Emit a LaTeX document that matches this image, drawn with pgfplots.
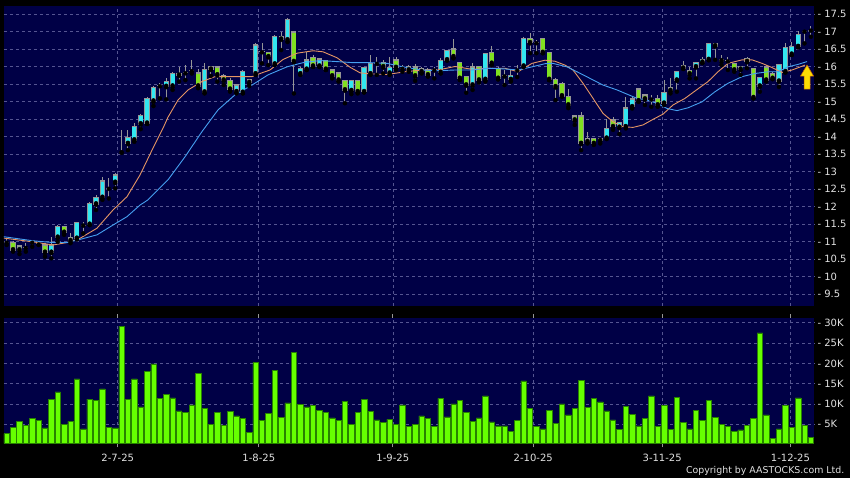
\documentclass[border=0pt]{standalone}
\usepackage{pgfplots}
\pgfplotsset{compat=1.18}
\usepackage{pgfplotstable}
\usepackage{fontspec}
\setmainfont{DejaVu Sans}
\definecolor{panel}{RGB}{0,0,70}
\definecolor{gridc}{RGB}{85,85,145}
\definecolor{upc}{RGB}{50,230,240}
\definecolor{dnc}{RGB}{128,224,32}
\definecolor{wick}{RGB}{150,150,150}
\definecolor{volf}{RGB}{102,255,0}
\definecolor{vold}{RGB}{40,130,0}
\definecolor{maone}{RGB}{230,150,100}
\definecolor{matwo}{RGB}{70,160,240}
\definecolor{lab}{RGB}{225,225,225}
\pgfdeclareplotmark{uparrow}{%
  \pgfpathmoveto{\pgfpoint{0pt}{12pt}}%
  \pgfpathlineto{\pgfpoint{6.5pt}{1pt}}%
  \pgfpathlineto{\pgfpoint{3pt}{1pt}}%
  \pgfpathlineto{\pgfpoint{3pt}{-12pt}}%
  \pgfpathlineto{\pgfpoint{-3pt}{-12pt}}%
  \pgfpathlineto{\pgfpoint{-3pt}{1pt}}%
  \pgfpathlineto{\pgfpoint{-6.5pt}{1pt}}%
  \pgfpathclose
  \pgfusepath{fill,stroke}}
\pgfplotstableread{
i O H L C
2 10.76 10.90 10.64 10.87
7 10.69 11.14 10.52 10.90
8 11.12 11.47 10.99 11.42
11 11.09 11.57 11.06 11.55
13 11.49 12.14 11.47 12.09
14 12.07 12.33 11.90 12.26
15 12.26 12.85 12.19 12.73
17 12.69 12.95 12.52 12.90
19 13.80 14.19 13.61 13.97
20 13.90 14.40 13.85 14.28
21 14.36 14.65 14.21 14.60
22 14.38 15.12 14.36 15.09
23 15.01 15.44 14.87 15.40
25 15.43 15.66 15.06 15.58
26 15.44 15.85 15.33 15.80
31 15.27 16.09 15.23 15.92
32 15.92 16.00 15.73 15.99
36 15.28 15.50 15.23 15.47
37 15.26 15.90 15.23 15.85
38 15.54 15.64 15.44 15.62
39 15.79 16.68 15.76 16.61
42 16.07 16.90 16.04 16.85
43 16.78 16.99 16.47 16.85
44 16.76 17.38 16.70 17.35
46 15.79 15.99 15.76 15.95
47 15.92 16.42 15.90 16.19
49 16.01 16.23 15.99 16.21
54 15.31 15.62 15.21 15.60
56 15.28 16.00 15.26 15.97
57 15.79 16.33 15.76 16.09
60 15.81 16.28 15.76 15.97
63 15.90 16.04 15.85 15.99
65 15.85 15.99 15.80 15.95
68 15.83 16.23 15.80 16.17
69 16.19 16.47 16.17 16.45
73 15.47 16.11 15.33 15.99
75 15.63 16.40 15.57 16.38
79 15.63 15.90 15.57 15.74
81 16.01 16.83 15.99 16.80
91 13.85 14.14 13.80 13.95
93 13.88 13.97 13.80 13.95
94 13.95 14.49 13.93 14.23
96 14.26 14.42 14.07 14.40
97 14.28 15.14 14.23 14.82
98 14.85 15.14 14.80 15.07
103 14.95 15.61 14.90 15.25
104 15.31 15.66 15.23 15.40
105 15.61 15.88 15.28 15.85
108 15.99 16.14 15.66 16.12
109 16.12 16.28 16.10 16.20
110 16.20 16.68 16.18 16.66
115 15.92 16.02 15.76 16.00
118 15.44 15.70 15.28 15.68
121 15.58 16.08 15.42 16.06
122 15.85 16.66 15.83 16.55
123 16.35 16.71 16.33 16.57
124 16.57 17.01 16.55 16.92
}\upT
\pgfplotstableread{
i O H L C
1 10.97 11.00 10.71 10.76
6 10.90 10.95 10.57 10.69
9 11.42 11.44 11.19 11.26
10 11.12 11.23 10.95 11.02
27 15.79 16.00 15.57 15.75
30 15.82 15.92 15.38 15.44
33 15.99 16.00 15.57 15.76
34 15.73 15.80 15.47 15.61
35 15.60 15.66 15.28 15.35
41 16.40 16.42 16.04 16.28
45 16.99 17.00 15.23 16.14
48 16.25 16.33 15.99 16.01
50 16.17 16.19 15.90 15.92
51 15.90 15.92 15.66 15.73
52 15.82 15.85 15.57 15.61
53 15.60 15.62 14.95 15.33
55 15.60 15.62 15.23 15.28
59 16.11 16.19 15.80 15.99
61 16.19 16.28 15.90 15.97
64 15.99 16.07 15.59 15.73
66 15.90 15.95 15.71 15.76
70 16.50 16.80 16.23 16.28
71 16.11 16.14 15.61 15.66
72 15.71 15.73 15.25 15.47
74 16.00 16.02 15.54 15.61
76 16.40 16.59 16.04 16.09
77 15.95 16.00 15.63 15.66
82 16.80 16.97 16.38 16.68
84 16.80 16.81 16.38 16.40
85 16.40 16.42 15.61 15.63
86 15.63 15.66 15.04 15.42
87 15.52 15.55 15.14 15.16
88 15.14 15.35 14.81 14.90
89 14.59 14.62 14.33 14.47
90 14.59 14.71 13.61 13.80
92 13.95 13.97 13.76 13.80
95 14.47 14.57 14.19 14.28
99 15.36 15.38 14.99 15.02
100 15.19 15.21 14.90 15.07
102 15.09 15.19 14.85 14.90
106 16.01 16.16 15.93 15.95
107 15.88 16.00 15.66 15.79
111 16.66 16.68 16.19 16.59
112 16.20 16.33 16.04 16.16
114 16.09 16.11 15.85 15.90
116 16.23 16.28 15.95 16.14
117 15.95 15.97 15.09 15.11
119 15.99 16.04 15.57 15.61
120 15.80 15.83 15.64 15.66
}\dnT
\pgfplotstableread{
i P H L
0 10.98 11.09 10.90
3 10.83 10.95 10.71
4 10.98 11.05 10.85
5 10.93 11.02 10.90
12 11.47 11.57 11.23
16 12.52 12.80 12.23
18 13.55 14.19 13.55
24 15.45 15.52 15.09
28 15.82 16.04 15.61
29 15.88 16.18 15.80
40 16.42 16.68 16.09
58 16.09 16.28 15.76
62 15.95 16.04 15.85
67 15.90 15.99 15.66
78 15.73 15.90 15.47
80 15.90 16.04 15.70
83 16.68 16.76 16.38
101 15.07 15.19 14.85
113 16.16 16.28 15.90
125 17.01 17.04 16.66
126 17.04 17.16 16.85
}\djT
\pgfplotstableread{
i V
0 2.7
1 4.3
2 5.7
3 4.7
4 6.5
5 5.9
6 4.1
7 11.1
8 13.0
9 4.9
10 5.7
11 16.2
12 3.9
13 11.2
14 10.8
15 13.7
16 4.3
17 4.1
18 29.1
19 11.1
20 16.2
21 9.3
22 18.1
23 19.9
24 11.3
25 12.4
26 11.5
27 8.3
28 8.0
29 9.8
30 17.6
31 8.9
32 4.9
33 7.9
34 4.7
35 8.1
36 7.1
37 6.4
38 3.1
39 20.2
40 6.0
41 7.6
42 18.3
43 6.7
44 10.3
45 22.8
46 9.9
47 9.3
48 9.6
49 8.5
50 7.9
51 6.6
52 5.9
53 10.7
54 5.0
55 8.0
56 11.1
57 8.2
58 6.1
59 5.5
60 6.2
61 5.0
62 9.8
63 4.4
64 4.9
65 7.1
66 6.5
67 4.4
68 11.4
69 6.8
70 10.0
71 10.8
72 8.0
73 5.8
74 6.6
75 12.0
76 5.6
77 4.6
78 4.6
79 3.2
80 5.9
81 15.7
82 8.9
83 4.4
84 3.9
85 8.4
86 5.2
87 10.0
88 7.3
89 8.9
90 15.9
91 9.2
92 11.4
93 10.5
94 8.3
95 6.1
96 3.8
97 9.4
98 7.5
99 4.6
100 6.4
101 12.0
102 4.5
103 9.6
104 3.8
105 11.6
106 5.5
107 3.9
108 8.4
109 5.9
110 10.8
111 6.7
112 4.9
113 4.4
114 3.3
115 3.6
116 4.8
117 6.4
118 27.5
119 7.3
120 1.6
121 3.9
122 9.7
123 4.2
124 11.5
125 4.8
126 1.8
}\volT
\pgfplotsset{
  chartbase/.style={
    anchor=south west, scale only axis, width=810.3pt,
    xmin=-0.42, xmax=126.54,
    axis background/.style={fill=panel},
    axis line style={draw=none},
    grid=major,
    major grid style={draw=gridc, dash pattern=on 3pt off 3pt, line width=0.6pt},
    xtick={17.4,39.5,60.5,82.5,102.7,122.8},
    yticklabel pos=right,
    ytick style={draw=none},
    yticklabel style={anchor=west, font=\fontsize{10}{12}\selectfont, text=lab, inner sep=0pt, xshift=3pt},
  }
}
\begin{document}
\begin{tikzpicture}
\path[use as bounding box, fill=black] (0pt,0pt) rectangle (850pt,478pt);
\begin{axis}[chartbase, at={(4pt,172pt)}, height=300pt,
  ymin=9.157, ymax=17.729,
  xticklabels={}, xtick style={draw=none},
  ytick={9.5,10,10.5,11,11.5,12,12.5,13,13.5,14,14.5,15,15.5,16,16.5,17,17.5},
  yticklabels={- 9.5,- 10,- 10.5,- 11,- 11.5,- 12,- 12.5,- 13,- 13.5,- 14,- 14.5,- 15,- 15.5,- 16,- 16.5,- 17,- 17.5},
]
% wicks
\addplot[only marks, mark=none, forget plot, error bars/.cd, y dir=plus, y explicit, error mark=none,
  error bar style={draw=wick, line width=0.9pt}]
  table[x=i, y=L, y error plus expr={\thisrow{H}-\thisrow{L}}] {\upT};
\addplot[only marks, mark=none, forget plot, error bars/.cd, y dir=plus, y explicit, error mark=none,
  error bar style={draw=wick, line width=0.9pt}]
  table[x=i, y=L, y error plus expr={\thisrow{H}-\thisrow{L}}] {\dnT};
\addplot[only marks, mark=none, forget plot, error bars/.cd, y dir=plus, y explicit, error mark=none,
  error bar style={draw=wick, line width=0.9pt}]
  table[x=i, y=L, y error plus expr={\thisrow{H}-\thisrow{L}}] {\djT};
% bodies: outline
\addplot[only marks, mark=none, forget plot, error bars/.cd, y dir=plus, y explicit, error mark=none,
  error bar style={draw=wick, line width=5.2pt}]
  table[x=i, y expr={\thisrow{O}-0.02}, y error plus expr={\thisrow{C}-\thisrow{O}+0.04}] {\upT};
\addplot[only marks, mark=none, forget plot, error bars/.cd, y dir=plus, y explicit, error mark=none,
  error bar style={draw=wick, line width=5.2pt}]
  table[x=i, y expr={\thisrow{C}-0.02}, y error plus expr={\thisrow{O}-\thisrow{C}+0.04}] {\dnT};
\addplot[only marks, mark=none, forget plot, error bars/.cd, y dir=plus, y explicit, error mark=none,
  error bar style={draw=wick, line width=5.2pt}]
  table[x=i, y expr={\thisrow{P}-0.015}, y error plus expr={0.03}] {\djT};
% bodies: fill
\addplot[only marks, mark=none, forget plot, error bars/.cd, y dir=plus, y explicit, error mark=none,
  error bar style={draw=upc, line width=3.8pt}]
  table[x=i, y expr={\thisrow{O}+0.02}, y error plus expr={max(\thisrow{C}-\thisrow{O}-0.04,0.01)}] {\upT};
\addplot[only marks, mark=none, forget plot, error bars/.cd, y dir=plus, y explicit, error mark=none,
  error bar style={draw=dnc, line width=3.8pt}]
  table[x=i, y expr={\thisrow{C}+0.02}, y error plus expr={max(\thisrow{O}-\thisrow{C}-0.04,0.01)}] {\dnT};
% moving averages
\addplot[maone, line width=0.9pt, mark=none] coordinates {
(-0.58,11.10) (4.12,10.99) (7.25,10.90) (9.45,10.97) (11.49,11.09) (14.15,11.38) (16.66,11.90) (18.85,12.28) (20.89,12.90) (22.77,13.61) (24.65,14.30) (25.27,14.55) (26.84,15.04) (28.41,15.33) (30.60,15.57) (32.64,15.71) (35.77,15.71) (38.44,15.71) (40.00,15.82) (41.26,15.90) (43.29,16.20) (45.49,16.38) (48.0,16.45) (49.56,16.42) (51.76,16.25) (53.79,15.98) (55.36,15.82) (56.93,15.79) (59.59,15.77) (62.41,15.85) (65.07,15.90) (67.58,15.90) (70.24,16.00) (72.91,15.92) (75.41,15.95) (78.08,15.95) (80.12,15.85) (82.31,16.09) (84.35,16.18) (85.91,16.15) (87.48,16.04) (88.73,15.90) (90.30,15.52) (91.87,15.09) (93.43,14.66) (95.0,14.42) (96.57,14.28) (98.13,14.26) (99.70,14.33) (101.27,14.49) (102.84,14.64) (104.40,14.90) (106.28,15.09) (107.85,15.30) (109.89,15.57) (111.45,15.85) (113.02,16.09) (115.22,16.19) (116.78,16.19) (118.35,16.09) (119.92,15.97) (121.48,15.83) (123.05,15.90) (125.09,16.04)
};
\addplot[matwo, line width=0.9pt, mark=none] coordinates {
(-0.58,11.14) (4.12,11.02) (7.25,10.97) (9.45,10.97) (11.49,11.06) (14.15,11.19) (16.66,11.47) (18.85,11.71) (20.89,12.04) (22.14,12.19) (25.27,12.76) (27.94,13.42) (30.60,14.14) (33.11,14.76) (35.77,15.19) (38.44,15.47) (40.94,15.76) (43.92,15.99) (46.43,16.11) (49.09,16.17) (51.76,16.14) (54.26,16.11) (56.93,16.11) (59.59,16.09) (62.10,15.99) (65.07,15.90) (67.58,15.88) (70.24,15.90) (72.91,15.90) (75.41,15.95) (78.08,15.93) (80.12,15.90) (82.31,15.99) (84.35,16.08) (85.60,16.09) (87.79,15.99) (89.36,15.85) (91.40,15.66) (93.43,15.47) (95.63,15.33) (97.20,15.21) (98.76,15.09) (100.33,15.04) (101.90,14.95) (103.46,14.80) (105.03,14.74) (106.75,14.82) (108.95,14.99) (110.98,15.28) (113.02,15.52) (115.22,15.71) (117.25,15.80) (119.29,15.85) (120.86,15.85) (122.42,15.99) (123.99,16.06) (125.40,16.14)
};
% signal arrow
\addplot[only marks, mark=uparrow, mark options={fill=yellow!80!orange, draw=orange!75!black, line width=0.5pt}] coordinates {(125.4,15.70)};
\end{axis}
\begin{axis}[chartbase, at={(4pt,34.7pt)}, height=125pt,
  ymin=0.32, ymax=31.1,
  ybar, bar width=5.4pt, bar shift=0pt,
  xticklabels={2-7-25,1-8-25,1-9-25,2-10-25,3-11-25,1-12-25},
  xtick align=outside, major tick length=4pt,
  xtick style={draw=wick, line width=0.7pt},
  xticklabel style={anchor=base, font=\fontsize{10}{12}\selectfont, text=lab, inner sep=0pt, yshift=-14pt},
  ytick={5,10,15,20,25,30},
  yticklabels={- 5K,- 10K,- 15K,- 20K,- 25K,- 30K},
]
\addplot[fill=volf, draw=vold, line width=0.5pt] table[x=i, y=V] {\volT};
\end{axis}
\node[anchor=base east, text=lab, font=\fontsize{9.4}{11}\selectfont, inner sep=0pt] at (844.5pt,4pt) {Copyright by AASTOCKS.com Ltd.};
\end{tikzpicture}
\end{document}
